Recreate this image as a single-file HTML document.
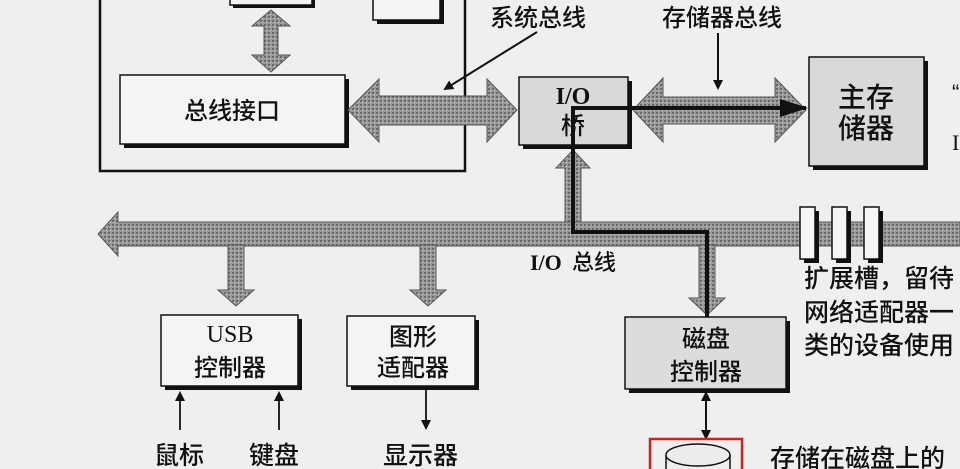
<!DOCTYPE html>
<html><head><meta charset="utf-8"><style>
html,body{margin:0;padding:0;background:#efefef;}
svg{display:block;}
text{font-family:"Liberation Serif","Noto Sans CJK SC",serif;fill:#111;}
.c{font-family:"Liberation Sans","Noto Sans CJK SC",sans-serif;font-weight:500;}
</style></head><body>
<svg width="960" height="469" viewBox="0 0 960 469" xmlns="http://www.w3.org/2000/svg">
<defs>
<pattern id="g" width="4" height="4" patternUnits="userSpaceOnUse">
<rect width="4" height="4" fill="#9a9a9a"/><rect x="0" y="0" width="2" height="2" fill="#6a6a6a"/><rect x="2" y="2" width="1" height="1" fill="#d0d0d0"/>
</pattern>
<marker id="ah" markerWidth="10" markerHeight="10" refX="8" refY="5" orient="auto" markerUnits="userSpaceOnUse"><path d="M0,0 L10,5 L0,10 z" fill="#111"/></marker>
</defs>
<rect width="960" height="469" fill="#efefef"/>
<path d="M100,-2 V171 H465 V-2" fill="none" stroke="#111" stroke-width="2.5"/>
<rect x="233" y="-5" width="82" height="13" fill="#111"/><rect x="230" y="-5" width="82" height="10" fill="#f4f4f4" stroke="#111" stroke-width="1.5"/>
<rect x="377" y="-5" width="67" height="29" fill="#111"/><rect x="373" y="-5" width="67" height="25" fill="#f4f4f4" stroke="#111" stroke-width="1.5"/>
<path d="M271,10 L290,26 L278,26 L278,55 L290,55 L271,72 L252,55 L264,55 L264,26 L252,26 Z" fill="url(#g)" stroke="#555" stroke-width="1"/>
<rect x="124" y="79" width="225" height="69" fill="#111"/>
<rect x="120" y="75" width="225" height="69" fill="#f4f4f4" stroke="#111" stroke-width="1.5"/>
<text x="232" y="119" font-size="24" text-anchor="middle" class="c">总线接口</text>
<path d="M348,110 L379,79 L379,96 L487,96 L487,79 L517,110 L487,142 L487,125 L379,125 L379,142 Z" fill="url(#g)" stroke="#555"/>
<text x="538" y="26" font-size="24" text-anchor="middle" class="c">系统总线</text>
<line x1="537" y1="32" x2="445" y2="89" stroke="#111" stroke-width="2" marker-end="url(#ah)"/>
<rect x="523" y="81" width="109" height="68" fill="#111"/>
<rect x="519" y="77" width="109" height="68" fill="#d9d9d9" stroke="#111" stroke-width="1.5"/>
<text x="573" y="104" font-size="24" text-anchor="middle" font-weight="bold">I/O</text>
<text x="573" y="134" font-size="24" text-anchor="middle" class="c">桥</text>
<path d="M633,110 L663,78 L663,97 L775,97 L775,78 L806,110 L775,142 L775,124 L663,124 L663,142 Z" fill="url(#g)" stroke="#555"/>
<text x="722" y="26" font-size="24" text-anchor="middle" class="c">存储器总线</text>
<line x1="718" y1="33" x2="718" y2="88" stroke="#111" stroke-width="2" marker-end="url(#ah)"/>
<rect x="813" y="61" width="115" height="109" fill="#111"/>
<rect x="809" y="57" width="115" height="109" fill="#d9d9d9" stroke="#111" stroke-width="1.5"/>
<text x="866" y="107" font-size="28" text-anchor="middle" class="c">主存</text>
<text x="866" y="138" font-size="28" text-anchor="middle" class="c">储器</text>
<text x="952" y="100" font-size="22" class="c">“</text>
<text x="952" y="150" font-size="22">I</text>
<path d="M573,150 L590,168 L581,168 L581,224 L565,224 L565,168 L556,168 Z" fill="url(#g)" stroke="#555"/>
<path d="M98,234 L118,212 L118,222 L960,222 L960,246 L118,246 L118,256 Z" fill="url(#g)" stroke="#555"/>
<path d="M228,245 L244,245 L244,290 L254,290 L236,306 L218,290 L228,290 Z" fill="url(#g)" stroke="#555"/>
<path d="M420,245 L436,245 L436,290 L446,290 L428,306 L410,290 L420,290 Z" fill="url(#g)" stroke="#555"/>
<path d="M699,245 L715,245 L715,298 L725,298 L707,315 L689,298 L699,298 Z" fill="url(#g)" stroke="#555"/>
<polyline points="573,145 573,108 806,108" fill="none" stroke="#111" stroke-width="4"/>
<path d="M780,99 L808,108 L780,117 Z" fill="#111"/>
<polyline points="573,145 573,232 707,232 707,322" fill="none" stroke="#111" stroke-width="4"/>
<rect x="804" y="211" width="15" height="52" fill="#111"/><rect x="800" y="207" width="15" height="52" fill="#f6f6f6" stroke="#111" stroke-width="1.5"/>
<rect x="836" y="211" width="15" height="52" fill="#111"/><rect x="832" y="207" width="15" height="52" fill="#f6f6f6" stroke="#111" stroke-width="1.5"/>
<rect x="868" y="211" width="15" height="52" fill="#111"/><rect x="864" y="207" width="15" height="52" fill="#f6f6f6" stroke="#111" stroke-width="1.5"/>
<text x="804" y="287" font-size="25" class="c">扩展槽，留待</text>
<text x="804" y="321" font-size="25" class="c">网络适配器一</text>
<text x="804" y="354" font-size="25" class="c">类的设备使用</text>
<text x="530" y="270" font-size="22" font-weight="bold">I/O</text><text x="572" y="270" font-size="22" class="c">总线</text>
<rect x="165" y="319" width="137" height="71" fill="#111"/>
<rect x="161" y="315" width="137" height="71" fill="#f4f4f4" stroke="#111" stroke-width="1.5"/>
<text x="230" y="342" font-size="24" text-anchor="middle">USB</text>
<text x="230" y="376" font-size="24" text-anchor="middle" class="c">控制器</text>
<rect x="351" y="320" width="128" height="70" fill="#111"/>
<rect x="347" y="316" width="128" height="70" fill="#f4f4f4" stroke="#111" stroke-width="1.5"/>
<text x="413" y="345" font-size="24" text-anchor="middle" class="c">图形</text>
<text x="413" y="376" font-size="24" text-anchor="middle" class="c">适配器</text>
<rect x="629" y="321" width="161" height="72" fill="#111"/>
<rect x="625" y="317" width="161" height="72" fill="#dcdcdc" stroke="#111" stroke-width="1.5"/>
<text x="706" y="347" font-size="24" text-anchor="middle" class="c">磁盘</text>
<text x="706" y="380" font-size="24" text-anchor="middle" class="c">控制器</text>
<line x1="180" y1="430" x2="180" y2="393" stroke="#111" stroke-width="1.8" marker-end="url(#ah)"/>
<line x1="279" y1="430" x2="279" y2="393" stroke="#111" stroke-width="1.8" marker-end="url(#ah)"/>
<line x1="426" y1="388" x2="426" y2="428" stroke="#111" stroke-width="1.8" marker-end="url(#ah)"/>
<line x1="706" y1="398" x2="706" y2="438" stroke="#111" stroke-width="1.8" marker-end="url(#ah)"/>
<line x1="706" y1="430" x2="706" y2="393" stroke="#111" stroke-width="1.8" marker-end="url(#ah)"/>
<text x="154" y="464" font-size="25" class="c">鼠标</text>
<text x="249" y="464" font-size="25" class="c">键盘</text>
<text x="383" y="464" font-size="25" class="c">显示器</text>
<rect x="650" y="439" width="92" height="35" fill="none" stroke="#cc2222" stroke-width="2.5"/>
<path d="M666,455 L666,475 M730,455 L730,475" stroke="#111" stroke-width="1.5"/>
<ellipse cx="698" cy="455" rx="32" ry="11" fill="#ececec" stroke="#111" stroke-width="1.5"/>
<text x="770" y="467" font-size="25" class="c">存储在磁盘上的</text>
</svg>
</body></html>
